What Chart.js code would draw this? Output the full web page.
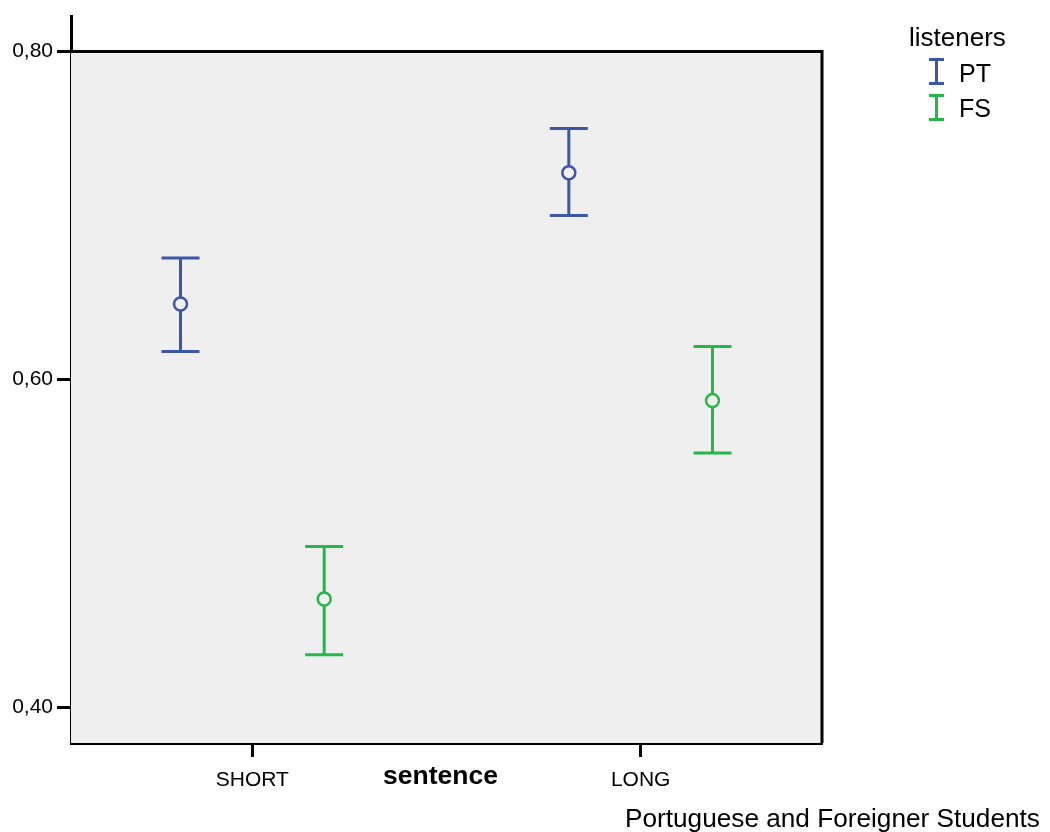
<!DOCTYPE html>
<html>
<head>
<meta charset="utf-8">
<script src="https://cdn.jsdelivr.net/npm/chart.js@4"></script>
<style>
  html, body { margin: 0; padding: 0; background: #fff; }
  #wrap { position: relative; width: 1050px; height: 832px; font-family: "Liberation Sans", Arial, sans-serif; color: #000; }
  #chart { position: absolute; left: 0; top: 0; }
  .txt { position: absolute; white-space: nowrap; line-height: 1; }
  .key { position: absolute; width: 15px; height: 27px; }
  .key .v { position: absolute; left: 6px; top: 0; width: 3px; height: 27px; }
  .key .c { position: absolute; left: 0; width: 15px; height: 3px; }
</style>
</head>
<body>
<div id="wrap">
  <canvas id="chart" width="1050" height="832"></canvas>
  <div class="txt" id="xTitle" style="left:383px; top:762px; font-size:26.5px; font-weight:bold;">sentence</div>
  <div class="txt" id="legendTitle" style="left:909px; top:24px; font-size:26px;">listeners</div>
  <div class="txt" style="left:959px; top:61px; font-size:25px;">PT</div>
  <div class="txt" style="left:959px; top:96px; font-size:25px;">FS</div>
  <div class="key" style="left:929px; top:58px;"><div class="v" style="background:#3c56a8"></div><div class="c" style="top:0;background:#3c56a8"></div><div class="c" style="top:24px;background:#3c56a8"></div></div>
  <div class="key" style="left:929px; top:94px;"><div class="v" style="background:#25b848"></div><div class="c" style="top:0;background:#25b848"></div><div class="c" style="top:24px;background:#25b848"></div></div>
  <div class="txt" style="left:625px; top:805px; font-size:26.2px;">Portuguese and Foreigner Students</div>
</div>
<script>
// data
const categories = ['SHORT', 'LONG'];
const groups = ['PT', 'FS'];
const ptMean = [0.646, 0.726];
const ptLow = [0.617, 0.700];
const ptHigh = [0.674, 0.753];
const fsMean = [0.466, 0.587];
const fsLow = [0.432, 0.555];
const fsHigh = [0.498, 0.620];
const yTicks = [0.40, 0.60, 0.80];

const colors = ['#3c56a8', '#25b848'];
const dodge = 0.185;

function makePoints(mean, low, high, side) {
    return categories.map((c, i) => ({ x: i + 1 + side * dodge, y: mean[i], low: low[i], high: high[i] }));
}

// gray panel below 0,80 plus the top/right frame
const panel = {
    id: 'panel',
    beforeDatasetsDraw(chart) {
        const { ctx, chartArea, scales } = chart;
        const top = scales.y.getPixelForValue(0.80);
        ctx.save();
        ctx.fillStyle = '#efefef';
        ctx.fillRect(chartArea.left, top, chartArea.right - chartArea.left, chartArea.bottom - top);
        ctx.strokeStyle = '#000';
        ctx.lineWidth = 3;
        ctx.beginPath();
        ctx.moveTo(chartArea.left, top);
        ctx.lineTo(chartArea.right, top);
        ctx.lineTo(chartArea.right, chartArea.bottom);
        ctx.stroke();
        ctx.restore();
    }
};

// whiskers, drawn under the hollow mean markers
const errorBars = {
    id: 'errorBars',
    beforeDatasetsDraw(chart) {
        const { ctx, scales } = chart;
        ctx.save();
        ctx.lineWidth = 3;
        chart.data.datasets.forEach((ds) => {
            ctx.strokeStyle = ds.borderColor;
            ds.data.forEach((d) => {
                const x = scales.x.getPixelForValue(d.x);
                const y1 = scales.y.getPixelForValue(d.low);
                const y2 = scales.y.getPixelForValue(d.high);
                ctx.beginPath();
                ctx.moveTo(x, y1); ctx.lineTo(x, y2);
                ctx.moveTo(x - 19, y1); ctx.lineTo(x + 19, y1);
                ctx.moveTo(x - 19, y2); ctx.lineTo(x + 19, y2);
                ctx.stroke();
            });
        });
        ctx.restore();
    }
};

new Chart(document.getElementById('chart'), {
    type: 'scatter',
    data: {
        datasets: [
            { label: groups[0], data: makePoints(ptMean, ptLow, ptHigh, -1), borderColor: colors[0] },
            { label: groups[1], data: makePoints(fsMean, fsLow, fsHigh, 1), borderColor: colors[1] }
        ].map(ds => Object.assign(ds, {
            pointRadius: 6.5,
            pointBorderWidth: 2.5,
            pointBackgroundColor: '#efefef',
            pointHoverRadius: 6.5
        }))
    },
    options: {
        responsive: false,
        animation: false,
        layout: { padding: { top: 14, right: 228, left: 0, bottom: 0 } },
        plugins: { legend: { display: false }, tooltip: { enabled: false } },
        scales: {
            x: {
                type: 'linear',
                min: 0.533,
                max: 2.467,
                afterBuildTicks: (s) => { s.ticks = categories.map((c, i) => ({ value: i + 1 })); },
                afterFit: (s) => { s.height = 89; },
                ticks: {
                    callback: (v) => categories[v - 1] || '',
                    color: '#000',
                    padding: 11,
                    maxRotation: 0,
                    font: { family: 'Liberation Sans', size: 21 }
                },
                grid: { drawOnChartArea: false, tickLength: 14, color: '#000', tickWidth: 3 },
                border: { color: '#000', width: 3 }
            },
            y: {
                min: 0.3781,
                max: 0.8213,
                afterBuildTicks: (s) => { s.ticks = yTicks.map(v => ({ value: v })); },
                afterFit: (s) => { s.width = 71; },
                ticks: {
                    callback: (v) => v.toFixed(2).replace('.', ','),
                    color: '#000',
                    padding: 4,
                    font: { family: 'Liberation Sans', size: 21 }
                },
                grid: { drawOnChartArea: false, tickLength: 14, color: '#000', tickWidth: 3 },
                border: { color: '#000', width: 3 }
            }
        }
    },
    plugins: [panel, errorBars]
});
</script>
</body>
</html>
